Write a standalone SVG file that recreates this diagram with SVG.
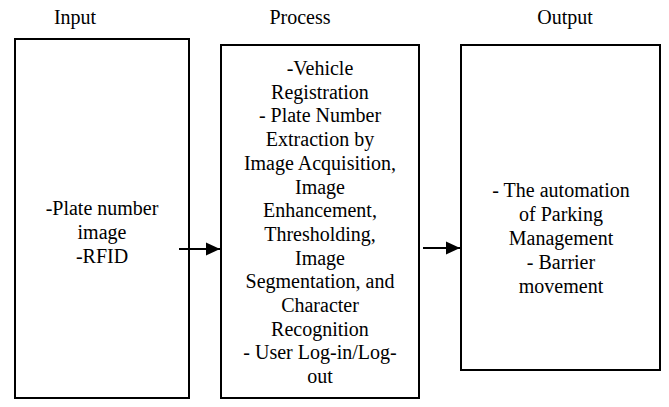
<svg xmlns="http://www.w3.org/2000/svg" width="669" height="407" viewBox="0 0 669 407">
<style>
  .box { fill: #fff; stroke: #000; stroke-width: 2; }
  .t { font-size: 20px; fill: #000; text-anchor: middle; }
  .c { stroke: #000; stroke-width: 2; fill: none; }
</style>
<defs>
  <marker id="ah" markerUnits="userSpaceOnUse" markerWidth="14" markerHeight="14" refX="14" refY="7" orient="auto">
    <path d="M0,0.5 L14,7 L0,13.5 Z" fill="#000"/>
  </marker>
</defs>
<g font-family="'Liberation Serif', 'DejaVu Serif', serif">
<g id="headers">
  <text class="t" x="75" y="24">Input</text>
  <text class="t" x="300" y="24">Process</text>
  <text class="t" x="565" y="24">Output</text>
</g>
<g id="input">
  <rect class="box" x="15" y="39" width="174" height="359"/>
  <text class="t" x="102" y="215">-Plate number</text>
  <text class="t" x="102" y="239">image</text>
  <text class="t" x="102" y="263">-RFID</text>
</g>
<g id="process">
  <rect class="box" x="221" y="45" width="198" height="353"/>
  <text class="t" x="320" y="75">-Vehicle</text>
  <text class="t" x="320" y="98.7">Registration</text>
  <text class="t" x="320" y="122.4">- Plate Number</text>
  <text class="t" x="320" y="146.1">Extraction by</text>
  <text class="t" x="320" y="169.8">Image Acquisition,</text>
  <text class="t" x="320" y="193.5">Image</text>
  <text class="t" x="320" y="217.2">Enhancement,</text>
  <text class="t" x="320" y="240.9">Thresholding,</text>
  <text class="t" x="320" y="264.6">Image</text>
  <text class="t" x="320" y="288.3">Segmentation, and</text>
  <text class="t" x="320" y="312">Character</text>
  <text class="t" x="320" y="335.7">Recognition</text>
  <text class="t" x="320" y="359.4">- User Log-in/Log-</text>
  <text class="t" x="320" y="383.1">out</text>
</g>
<g id="output">
  <rect class="box" x="461" y="45" width="199" height="325"/>
  <text class="t" x="561" y="197">- The automation</text>
  <text class="t" x="561" y="221">of Parking</text>
  <text class="t" x="561" y="245">Management</text>
  <text class="t" x="561" y="269">- Barrier</text>
  <text class="t" x="561" y="293">movement</text>
</g>
</g>
<g id="connectors">
  <line class="c" x1="179" y1="249" x2="220" y2="249" marker-end="url(#ah)"/>
  <line class="c" x1="423" y1="248" x2="460" y2="248" marker-end="url(#ah)"/>
</g>
</svg>
